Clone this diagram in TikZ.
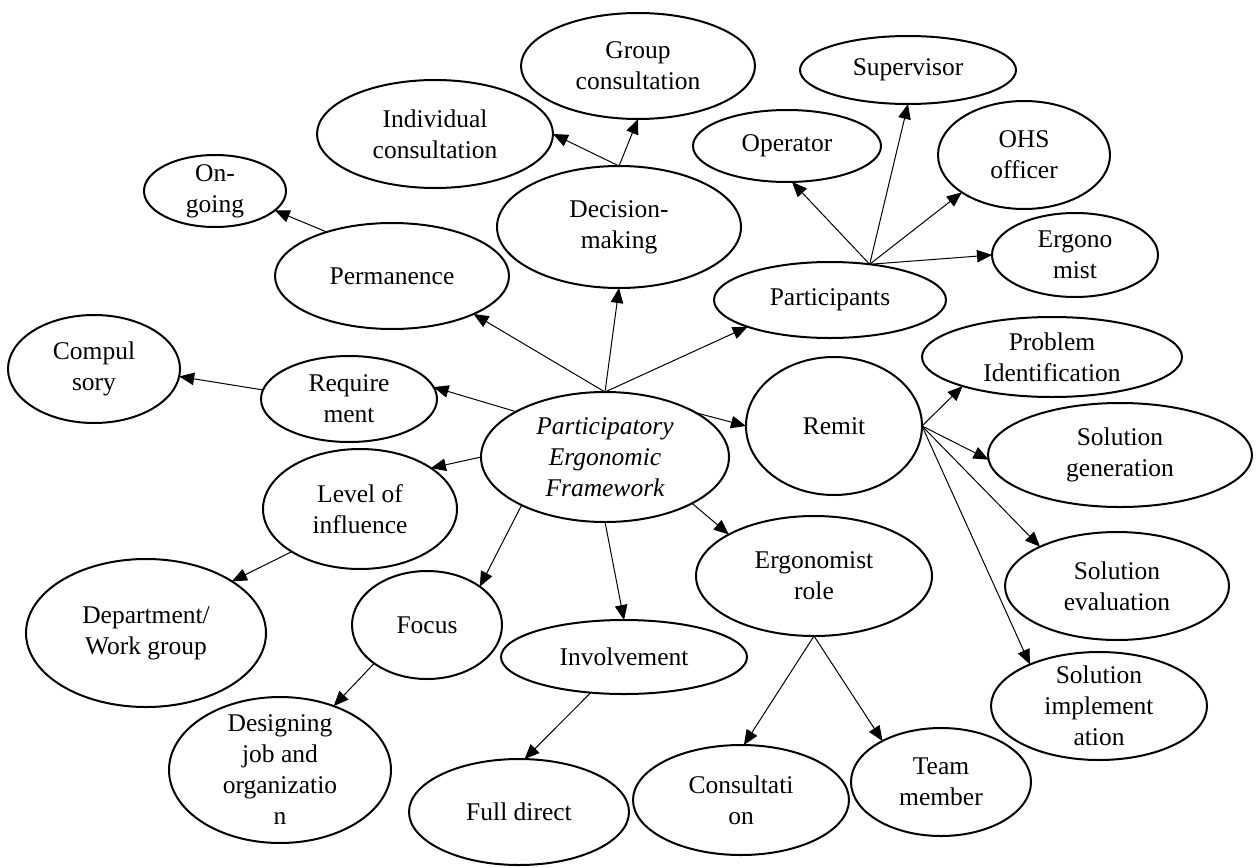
\documentclass[tikz,border=0pt]{standalone}
\usepackage{fontspec}
\setmainfont{Liberation Serif}
\usetikzlibrary{shapes.geometric,arrows.meta}
\begin{document}
\begin{tikzpicture}[x=1pt,y=-1pt,
  ell/.style={draw, ellipse, line width=2pt, inner sep=0pt, outer sep=0pt},
  txt/.style={font=\fontsize{25.5}{31}\selectfont, align=center, inner sep=0pt},
  itxt/.style={font=\fontsize{25.5}{31}\selectfont\itshape, align=center, inner sep=0pt},
  arr/.style={line width=1pt, -{Triangle[length=15pt,width=12.5pt]}}
]
\useasboundingbox (0,0) rectangle (1257,867);

\node[ell, minimum width=248, minimum height=130, label={[itxt]center:Participatory\\Ergonomic\\Framework}] (pef) at (605,457) {};
\node[ell, minimum width=234, minimum height=106, label={[txt]center:Permanence}] (perm) at (392,276) {};
\node[ell, minimum width=244, minimum height=122, label={[txt]center:Decision-\\making}] (dec) at (619,227) {};
\node[ell, minimum width=232, minimum height=76, label={[txt]center:Participants}] (part) at (830,300) {};
\node[ell, minimum width=176, minimum height=86, label={[txt]center:Require\\ment}] (req) at (349,399) {};
\node[ell, minimum width=172, minimum height=108, label={[txt]center:Compul\\sory}] (comp) at (94,369) {};
\node[ell, minimum width=142, minimum height=72, label={[txt]center:On-\\going}] (ongo) at (215,191) {};
\node[ell, minimum width=236, minimum height=108, label={[txt]center:Individual\\consultation}] (indiv) at (435,134) {};
\node[ell, minimum width=234, minimum height=106, label={[txt]center:Group\\consultation}] (group) at (638,66) {};
\node[ell, minimum width=188, minimum height=72, label={[txt]center:Operator}] (oper) at (787,146) {};
\node[ell, minimum width=216, minimum height=68, label={[txt]center:Supervisor}] (sup) at (908,70) {};
\node[ell, minimum width=172, minimum height=108, label={[txt]center:OHS\\officer}] (ohs) at (1024,155) {};
\node[ell, minimum width=166, minimum height=84, label={[txt]center:Ergono\\mist}] (ergo) at (1075,255) {};
\node[ell, minimum width=176, minimum height=138, label={[txt]center:Remit}] (remit) at (834,426) {};
\node[ell, minimum width=260, minimum height=80, label={[txt]center:Problem\\Identification}] (prob) at (1052,357) {};
\node[ell, minimum width=264, minimum height=104, label={[txt]center:Solution\\generation}] (sgen) at (1120,455) {};
\node[ell, minimum width=224, minimum height=108, label={[txt]center:Solution\\evaluation}] (seval) at (1117,586) {};
\node[ell, minimum width=216, minimum height=108, label={[txt]center:Solution\\implement\\ation}] (simpl) at (1099,706) {};
\node[ell, minimum width=194, minimum height=120, label={[txt]center:Level of\\influence}] (level) at (360,509) {};
\node[ell, minimum width=240, minimum height=148, label={[txt]center:Department/\\Work group}] (dept) at (146,633) {};
\node[ell, minimum width=150, minimum height=108, label={[txt]center:Focus}] (focus) at (427,625) {};
\node[ell, minimum width=222, minimum height=146, label={[txt]center:Designing\\job and\\organizatio\\n}] (des) at (280,770) {};
\node[ell, minimum width=246, minimum height=74, label={[txt]center:Involvement}] (inv) at (624,657) {};
\node[ell, minimum width=220, minimum height=106, label={[txt]center:Full direct}] (full) at (519,812) {};
\node[ell, minimum width=236, minimum height=120, label={[txt]center:Ergonomist\\role}] (erole) at (814,576) {};
\node[ell, minimum width=216, minimum height=110, label={[txt]center:Consultati\\on}] (cons) at (741,800) {};
\node[ell, minimum width=180, minimum height=108, label={[txt]center:Team\\member}] (team) at (941,782) {};

\draw[arr] (pef.north) -- (perm.335);
\draw[arr] (pef.north) -- (dec.south);
\draw[arr] (pef.north) -- (part.198);
\draw[arr] (pef.153) -- (req.8);
\draw[arr] (req.174) -- (comp.355);
\draw[arr] (perm.146) -- (ongo.342);
\draw[arr] (dec.north) -- (indiv.east);
\draw[arr] (dec.north) -- (group.south);
\draw[arr] (part.42) -- (oper.278);
\draw[arr] (part.42) -- (sup.south);
\draw[arr] (part.42) -- (ohs.211);
\draw[arr] (part.42) -- (ergo.west);
\draw[arr] (pef.26) -- (remit.west);
\draw[arr] (remit.east) -- (prob.198);
\draw[arr] (remit.east) -- (sgen.182);
\draw[arr] (remit.east) -- (seval.153);
\draw[arr] (remit.east) -- (simpl.149);
\draw[arr] (pef.west) -- (level.30);
\draw[arr] (level.212) -- (dept.31);
\draw[arr] (pef.210) -- (focus.36);
\draw[arr] (focus.216) -- (des.50);
\draw[arr] (pef.south) -- (inv.north);
\draw[arr] (inv.227) -- (full.84);
\draw[arr] (pef.332) -- (erole.154);
\draw[arr] (erole.south) -- (cons.87);
\draw[arr] (erole.south) -- (team.145);
\end{tikzpicture}
\end{document}
